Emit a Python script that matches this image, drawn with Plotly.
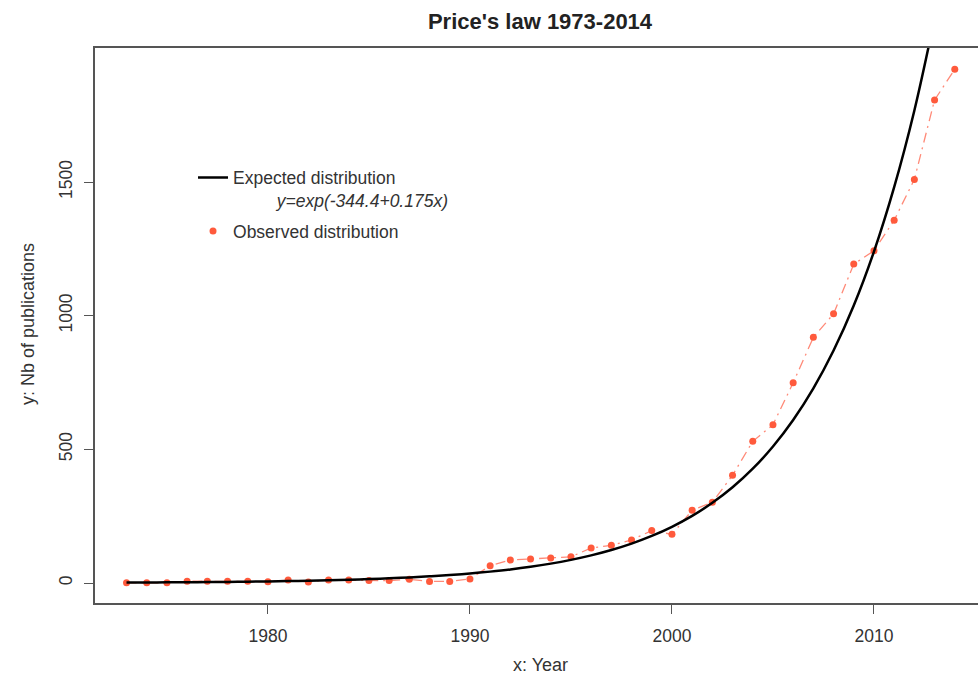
import plotly.graph_objects as go

# Observed publications per year
years = list(range(1973, 2015))
observed = [1, 1, 1, 7, 7, 7, 7, 5, 11, 4, 11, 11, 9, 9, 14, 6, 6, 15,
            65, 86, 90, 94, 98, 131, 141, 161, 196, 182, 272, 302, 403, 530,
            592, 749, 919, 1007, 1193, 1243, 1357, 1510, 1807, 1922]

# Expected curve values per year
exp_years = list(range(1973, 2014))
expected = [1.7, 2.1, 2.5, 3.0, 3.5, 4.2, 5.1, 6.0, 7.2, 8.6, 10.3, 12.3,
            14.7, 17.5, 20.9, 25.0, 29.8, 35.6, 42.6, 50.8, 60.7, 72.5, 86.6,
            103.4, 123.5, 147.5, 176.1, 210.3, 251.1, 299.9, 358.1, 427.6,
            510.7, 609.8, 728.2, 869.6, 1038, 1240, 1481, 1768, 2112]

x_ticks = [1980, 1990, 2000, 2010]
y_ticks = [0, 500, 1000, 1500]

FONT = "Liberation Sans, Arial, sans-serif"
TXT = "#333333"
RED = "#FF5A3C"

fig = go.Figure()
fig.add_trace(go.Scatter(
    x=years, y=observed, mode="lines", showlegend=False,
    line=dict(color="#FF8A78", width=1.3, dash="10px,5px,2px,5px"),
    hoverinfo="skip"))
fig.add_trace(go.Scatter(
    x=years, y=observed, mode="markers", name="Observed distribution",
    marker=dict(color=RED, size=7), legendrank=2, legendgroup="b"))
fig.add_trace(go.Scatter(
    x=exp_years, y=expected, mode="lines", line_shape="spline",
    name="Expected distribution<br>" + "\u00a0" * 9 + "<i>y=exp(-344.4+0.175x)</i>",
    line=dict(color="black", width=2.5), legendrank=1, legendgroup="a"))

fig.update_layout(
    width=978, height=674,
    margin=dict(l=95, r=0, t=48, b=71),
    paper_bgcolor="white", plot_bgcolor="white",
    font=dict(family=FONT, size=17.5, color=TXT),
    title=dict(text="<b>Price's law 1973-2014</b>", x=540/978, xref="container",
               xanchor="center", y=1 - 21/674, yref="container", yanchor="middle",
               font=dict(size=22, color="#222222")),
    legend=dict(x=0.111, y=0.799, xanchor="left", yanchor="top",
                bgcolor="rgba(0,0,0,0)", valign="top", tracegroupgap=5,
                font=dict(size=17.5, color=TXT)),
    showlegend=True,
    annotations=[
        dict(text="x: Year", xref="paper", yref="paper", x=0.505, y=-(665 - 603) / 555,
             xanchor="center", yanchor="middle", showarrow=False,
             font=dict(size=18, color=TXT)),
        dict(text="y: Nb of publications", xref="paper", yref="paper",
             x=-(95 - 28) / 883, y=(603 - 324) / 555, textangle=-90,
             xanchor="center", yanchor="middle", showarrow=False,
             font=dict(size=18, color=TXT)),
    ],
)
fig.update_xaxes(
    range=[1971.44, 2015.15], tickvals=x_ticks, showgrid=False, zeroline=False,
    showline=True, mirror=True, linecolor="#555555", linewidth=1.5,
    ticks="outside", ticklen=9, tickcolor="#555555", tickwidth=1.3,
    ticklabelstandoff=7, automargin=False)
fig.update_yaxes(
    range=[-74.8, 2001.5], tickvals=y_ticks, showgrid=False, zeroline=False,
    showline=True, linecolor="#555555", linewidth=1.5,
    ticks="outside", ticklen=9, tickcolor="#555555", tickwidth=1.3,
    tickangle=-90, ticklabelstandoff=5, automargin=False)

fig.write_html("out.html", post_script="document.body.style.margin='0';",
               config={"displayModeBar": False})
